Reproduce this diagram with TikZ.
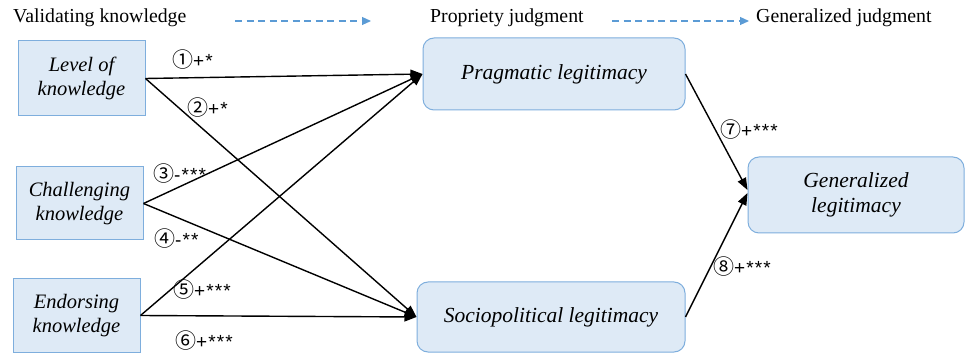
\documentclass[tikz,border=0pt]{standalone}
\usepackage{fontspec}
\setmainfont{Liberation Serif}
\newfontfamily\circfont{Noto Sans CJK SC}
\newfontfamily\labfont{Liberation Sans}[LetterSpace=6]
\usetikzlibrary{arrows.meta}
\definecolor{boxfill}{HTML}{DEEAF6}
\definecolor{boxline}{HTML}{7EAEDD}
\definecolor{dashblue}{HTML}{5B9BD5}
\tikzset{
  x=1pt,y=1pt,
  sqbox/.style={draw=boxline,fill=boxfill,line width=1pt,inner sep=0pt,align=center,
    font=\fontsize{20.5}{24}\selectfont\itshape},
  rbox/.style={sqbox,rounded corners=11pt,font=\fontsize{21.5}{24.5}\selectfont\itshape},
  conn/.style={line width=1.4pt,-{Triangle[length=12pt,width=9pt]}},
  hdr/.style={font=\fontsize{19.8}{23}\selectfont,inner sep=0pt,anchor=west},
  hdrarrow/.style={draw=dashblue,line width=1.1pt,dash pattern=on 7pt off 4.5pt,
    -{Triangle[length=9pt,width=8pt]}},
  lab/.style={inner sep=0pt,anchor=west,font=\labfont\fontsize{19}{21}\selectfont}
}
\newcommand{\cn}[1]{{\circfont\fontsize{21}{22}\selectfont #1}}
\begin{document}
\begin{tikzpicture}
\useasboundingbox (0,0) rectangle (965,353);
% header
\node[hdr] (h1) at (13,335) {Validating knowledge};
\node[hdr] (h2) at (430,335) {Propriety judgment};
\node[hdr] (h3) at (756,335) {Generalized judgment};
\coordinate (a1s) at (235,332);
\coordinate (a1e) at (371,332);
\coordinate (a2s) at (612,332);
\coordinate (a2e) at (749,332);
\draw[hdrarrow] (a1s) -- (a1e);
\draw[hdrarrow] (a2s) -- (a2e);
% boxes
\node[sqbox,minimum width=127pt,minimum height=75pt] (lev) at (81.5,274.5) {Level of\\knowledge};
\node[sqbox,minimum width=127pt,minimum height=73pt] (cha) at (79.5,149.5) {Challenging\\knowledge};
\node[sqbox,minimum width=127pt,minimum height=73pt] (end) at (76.5,37.5) {Endorsing\\knowledge};
\node[rbox,minimum width=262pt,minimum height=72pt] (pra) at (554,279) {Pragmatic legitimacy};
\node[rbox,minimum width=268pt,minimum height=70pt] (soc) at (551,36) {Sociopolitical legitimacy};
\node[rbox,minimum width=216pt,minimum height=76pt] (gen) at (856,158) {Generalized\\legitimacy};
% connectors
\draw[conn] (lev.east) -- (pra.west);
\draw[conn] (lev.east) -- (soc.west);
\draw[conn] (cha.east) -- (pra.west);
\draw[conn] (cha.east) -- (soc.west);
\draw[conn] (end.east) -- (pra.west);
\draw[conn] (end.east) -- (soc.west);
\draw[conn] (pra.east) -- ([yshift=5pt]gen.west);
\draw[conn] (soc.east) -- ([yshift=2pt]gen.west);
% labels
\node[lab] (l1) at (172,293) {\cn{①}+*};
\node[lab] (l2) at (187,245) {\cn{②}+*};
\node[lab] (l3) at (153,179) {\cn{③}-***};
\node[lab] (l4) at (154,114) {\cn{④}-**};
\node[lab] (l5) at (173,63) {\cn{⑤}+***};
\node[lab] (l6) at (175,12) {\cn{⑥}+***};
\node[lab] (l7) at (720,223) {\cn{⑦}+***};
\node[lab] (l8) at (713,86) {\cn{⑧}+***};
\end{tikzpicture}
\end{document}
